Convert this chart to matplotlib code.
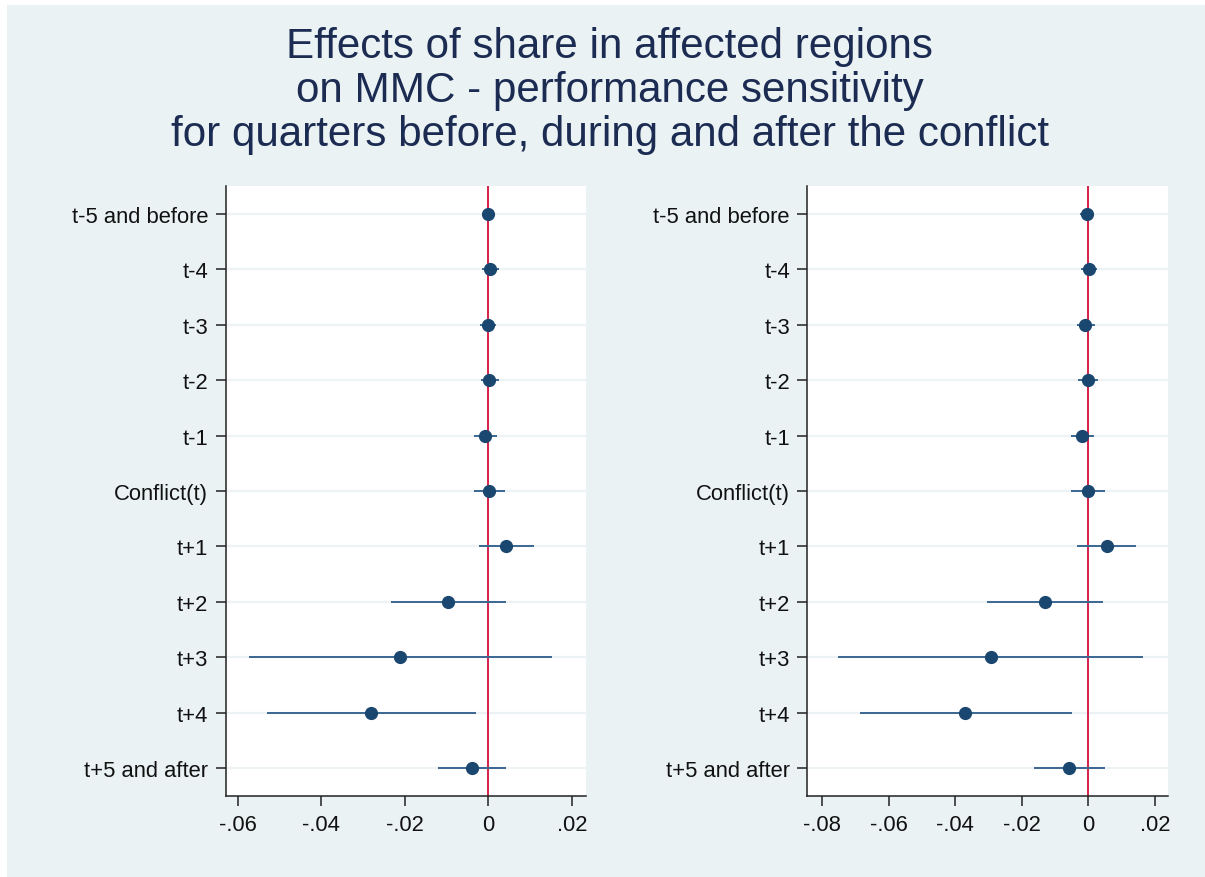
import matplotlib
matplotlib.use("Agg")
import matplotlib.pyplot as plt
from matplotlib.patches import Rectangle

categories = ["t-5 and before", "t-4", "t-3", "t-2", "t-1", "Conflict(t)",
              "t+1", "t+2", "t+3", "t+4", "t+5 and after"]

left_coef = [-0.0002, 0.0005, -0.0002, 0.0002, -0.0008, 0.0002,
             0.0042, -0.0097, -0.0211, -0.0282, -0.0039]
left_lo = [-0.0010, -0.0014, -0.0021, -0.0018, -0.0035, -0.0035,
           -0.0022, -0.0234, -0.0572, -0.0531, -0.0121]
left_hi = [0.0006, 0.0025, 0.0019, 0.0025, 0.0020, 0.0040,
           0.0110, 0.0042, 0.0152, -0.0029, 0.0042]

right_coef = [-0.0005, 0.0002, -0.0010, -0.0002, -0.0019, -0.0002,
              0.0055, -0.0130, -0.0293, -0.0370, -0.0057]
right_lo = [-0.0025, -0.0022, -0.0035, -0.0030, -0.0053, -0.0053,
            -0.0035, -0.0305, -0.0751, -0.0687, -0.0164]
right_hi = [0.0015, 0.0027, 0.0020, 0.0028, 0.0016, 0.0050,
            0.0144, 0.0045, 0.0165, -0.0048, 0.0049]

left_ticks = [-0.06, -0.04, -0.02, 0, 0.02]
left_ticklabels = ["-.06", "-.04", "-.02", "0", ".02"]
right_ticks = [-0.08, -0.06, -0.04, -0.02, 0, 0.02]
right_ticklabels = ["-.08", "-.06", "-.04", "-.02", "0", ".02"]

title = ("Effects of share in affected regions\n"
         "on MMC - performance sensitivity\n"
         "for quarters before, during and after the conflict")

plt.rcParams['font.family'] = ['Liberation Sans', 'DejaVu Sans']

BG = "#EAF2F3"
NAVY = "#1a476f"
CI = "#3b6791"
RED = "#d62048"
GRID = "#edf2f4"

fig = plt.figure(figsize=(12.05, 8.78), dpi=100, facecolor="white")
fig.patches.append(Rectangle((7 / 1205, 0), 1 - 7 / 1205, 1 - 6 / 878,
                             transform=fig.transFigure, facecolor=BG,
                             edgecolor="none", zorder=-10))

fig.text(0.506, 1 - 91 / 878, title, ha="center", va="center", fontsize=30.3,
         color="#1c2b52", linespacing=1.12)

def panel(rect, coef, lo, hi, xlim, ticks, ticklabels):
    ax = fig.add_axes(rect)
    ax.set_facecolor("white")
    y = list(range(1, len(categories) + 1))
    for yi in y:
        ax.axhline(yi, color=GRID, lw=1.6, zorder=0)
    ax.axvline(0, color=RED, lw=1.4, zorder=1)
    ax.hlines(y, lo, hi, color=CI, lw=1.4, zorder=2)
    ax.plot(coef, y, "o", color=NAVY, markersize=8.5, zorder=3,
            markeredgecolor=NAVY)
    ax.set_ylim(11.5, 0.5)
    ax.set_xlim(*xlim)
    ax.set_yticks(y)
    ax.set_yticklabels(categories)
    ax.set_xticks(ticks)
    ax.set_xticklabels(ticklabels)
    for s in ["top", "right"]:
        ax.spines[s].set_visible(False)
    for s in ["left", "bottom"]:
        ax.spines[s].set_color("#222222")
        ax.spines[s].set_linewidth(1.1)
    ax.tick_params(axis="both", length=7, width=1.1, color="#222222",
                   labelsize=15.8, labelcolor="#111111", pad=5.5)
    ax.tick_params(axis="x", pad=6)
    return ax

panel([0.1873, 0.0923, 0.2987, 0.6947], left_coef, left_lo, left_hi,
      (-0.0629, 0.0233), left_ticks, left_ticklabels)
panel([0.6700, 0.0923, 0.2990, 0.6947], right_coef, right_lo, right_hi,
      (-0.0844, 0.0238), right_ticks, right_ticklabels)

fig.savefig("out.png", dpi=100, facecolor="white")
